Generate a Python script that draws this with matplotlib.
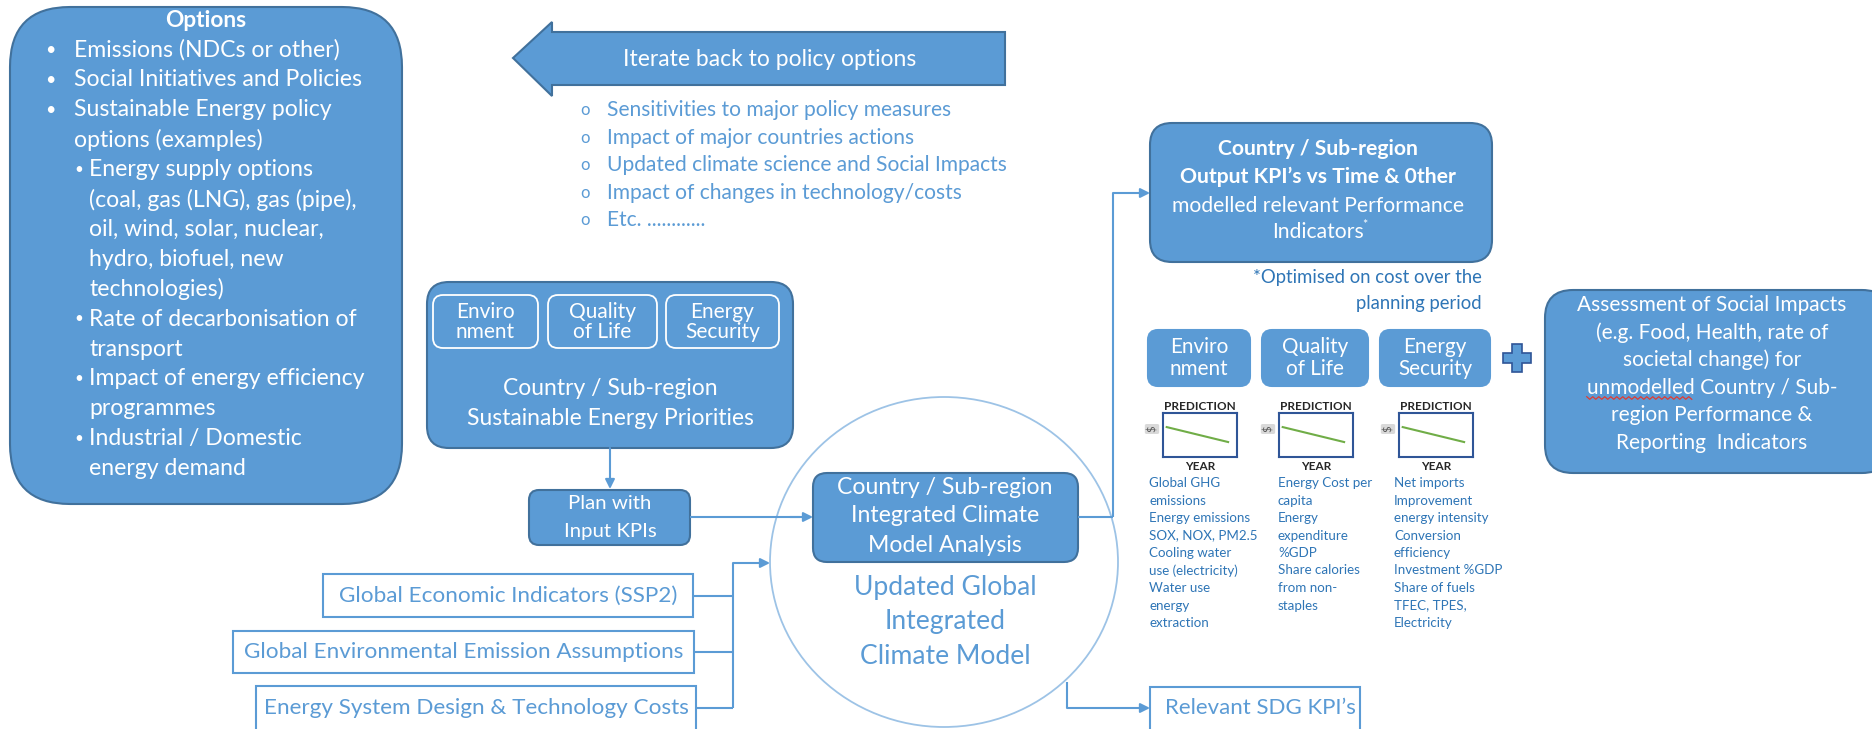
import numpy as np
import matplotlib.pyplot as plt
from matplotlib.patches import FancyBboxPatch, Rectangle, Ellipse, Polygon

plt.rcParams['font.family'] = ['Lato', 'DejaVu Sans']

#========================== text data ===========================#
options_items = [
    (0, ['Emissions (NDCs or other)']),
    (0, ['Social Initiatives and Policies']),
    (0, ['Sustainable Energy policy', 'options (examples)']),
    (1, ['Energy supply options', '(coal, gas (LNG), gas (pipe),', 'oil, wind, solar, nuclear,',
         'hydro, biofuel, new', 'technologies)']),
    (1, ['Rate of decarbonisation of', 'transport']),
    (1, ['Impact of energy efficiency', 'programmes']),
    (1, ['Industrial / Domestic', 'energy demand']),
]
iterate_title = 'Iterate back to policy options'
iterate_bullets = ['Sensitivities to major policy measures', 'Impact of major countries actions',
                   'Updated climate science and Social Impacts', 'Impact of changes in technology/costs',
                   'Etc. ............']
priority_tags = ['Enviro\nnment', 'Quality\nof Life', 'Energy\nSecurity']
input_boxes = ['Global Economic Indicators (SSP2)', 'Global Environmental Emission Assumptions',
               'Energy System Design & Technology Costs']
output_lines = ['Country / Sub-region', 'Output KPI\u2019s vs Time & 0ther',
                'modelled relevant Performance', 'Indicators']
kpi_lists = [
    ['Global GHG', 'emissions', 'Energy emissions', 'SOX, NOX, PM2.5', 'Cooling water',
     'use (electricity)', 'Water use', 'energy', 'extraction'],
    ['Energy Cost per', 'capita', 'Energy', 'expenditure', '%GDP', 'Share calories',
     'from non-', 'staples'],
    ['Net imports', 'Improvement', 'energy intensity', 'Conversion', 'efficiency',
     'Investment %GDP', 'Share of fuels', 'TFEC, TPES,', 'Electricity'],
]
assess_lines = ['Assessment of Social Impacts', '(e.g. Food, Health, rate of', 'societal change) for',
                'unmodelled Country / Sub-', 'region Performance &', 'Reporting  Indicators']
# mini prediction charts (relative year position, relative value)
pred_years = [0.05, 0.88]
pred_vals = [0.68, 0.34]

#========================== colours ===========================#
blue = '#5B9BD5'
edge = '#41719C'
dark = '#2E75B6'
white = 'white'

W, H = 1872, 729
fig = plt.figure(figsize=(W / 100, H / 100), dpi=100)
ax = fig.add_axes([0, 0, 1, 1])
ax.set_xlim(0, W)
ax.set_ylim(H, 0)
ax.axis('off')
rend = fig.canvas.get_renderer()

#===== font size that gives a line the width it has in the picture =====#
def fit(s, target, weight='normal'):
    t = ax.text(0, 0, s, fontsize=10, fontweight=weight)
    w = t.get_window_extent(rend).width
    t.remove()
    return 10 * target / w

def rbox(x0, y0, x1, y1, r, fc=blue, ec=edge, lw=1.5, z=2):
    p = FancyBboxPatch((x0, y0), x1 - x0, y1 - y0, boxstyle='round,pad=0,rounding_size=%d' % r,
                       fc=fc, ec=ec, lw=lw, zorder=z)
    ax.add_patch(p)

def arrow(x0, y0, x1, y1):
    ax.annotate('', xy=(x1, y1), xytext=(x0, y0),
                arrowprops=dict(arrowstyle='-|>', color=blue, lw=1.5, mutation_scale=14,
                                shrinkA=0, shrinkB=0), zorder=3)

def line(xs, ys):
    ax.plot(xs, ys, color=blue, lw=1.5, zorder=3, solid_capstyle='butt')

#========================== options box ===========================#
rbox(10, 7, 402, 504, 60)
ax.text(206, 20, 'Options', color=white, fontsize=fit('Options', 81, 'bold'), fontweight='bold',
        ha='center', va='center', zorder=5)
fs_opt = fit('Social Initiatives and Policies', 288)
k = 0
for lvl, lines in options_items:
    bx, tx = (50, 74) if lvl == 0 else (79, 89)
    ax.text(bx, 50 + 29.9 * k, '\u2022', color=white, fontsize=13 if lvl == 0 else 11,
            ha='center', va='center', zorder=5)
    for ln in lines:
        ax.text(tx, 50 + 29.9 * k, ln, color=white, fontsize=fs_opt, ha='left', va='center', zorder=5)
        k += 1

#========================== iterate arrow ===========================#
ax.add_patch(Polygon([(513, 58), (552, 22), (552, 32), (1005, 32), (1005, 85), (552, 85), (552, 96)],
                     closed=True, fc=blue, ec=edge, lw=1.5, zorder=2))
ax.text(770, 59, iterate_title, color=white, fontsize=fit(iterate_title, 293),
        ha='center', va='center', zorder=5)
fs_it = fit(iterate_bullets[2], 401)
for i, b in enumerate(iterate_bullets):
    y = 110 + 27.5 * i
    ax.text(585, y, 'o', color=blue, fontsize=12, ha='center', va='center')
    ax.text(607, y, b, color=blue, fontsize=fs_it, ha='left', va='center')

#========================== priorities ===========================#
rbox(427, 282, 793, 448, 22)
tag_x = [(433, 538), (548, 657), (666, 779)]
fs_tag = fit('Security', 75)
for (x0, x1), t in zip(tag_x, priority_tags):
    rbox(x0, 295, x1, 348, 10, ec=white, lw=1.3, z=3)
    ax.text((x0 + x1) / 2, 322, t, color=white, fontsize=fs_tag, ha='center', va='center',
            linespacing=1.05, zorder=5)
fs_pri = fit('Sustainable Energy Priorities', 287)
ax.text(610, 388, 'Country / Sub-region', color=white, fontsize=fs_pri, ha='center', va='center', zorder=5)
ax.text(610, 418, 'Sustainable Energy Priorities', color=white, fontsize=fs_pri, ha='center', va='center', zorder=5)
arrow(610, 448, 610, 489)

rbox(529, 490, 690, 545, 10)
fs_plan = fit('Input KPIs', 92)
ax.text(610, 503, 'Plan with', color=white, fontsize=fs_plan, ha='center', va='center', zorder=5)
ax.text(610, 532, 'Input KPIs', color=white, fontsize=fs_plan, ha='center', va='center', zorder=5)

#========================== inputs ===========================#
inp_x = [(323, 693), (233, 694), (256, 696)]
inp_y = [(574, 617), (631, 673), (686, 735)]
inp_w = [345, 448, 424]
fs_inp = min(fit(t, w) for t, w in zip(input_boxes, inp_w))
for (x0, x1), (y0, y1), t in zip(inp_x, inp_y, input_boxes):
    ax.add_patch(Rectangle((x0, y0), x1 - x0, y1 - y0, fc=white, ec=blue, lw=1.5, zorder=2))
    yc = (y0 + y1) / 2 if y1 < H else 708
    ax.text((x0 + x1) / 2, yc, t, color=blue, fontsize=fs_inp, ha='center', va='center', zorder=5)
    line([x1, 733], [yc] * 2)
line([733, 733], [563, 708])
arrow(733, 563, 770, 563)

#========================== global model ===========================#
ax.add_patch(Ellipse((944, 562), 348, 330, fc='none', ec='#9DC3E6', lw=1.3, zorder=1))
line([690, 800], [517, 517])
arrow(790, 517, 813, 517)
rbox(813, 473, 1078, 562, 14)
fs_icm = fit('Integrated Climate', 188)
for y, t in zip([487, 516, 545], ['Country / Sub-region', 'Integrated Climate', 'Model Analysis']):
    ax.text(945, y, t, color=white, fontsize=fs_icm, ha='center', va='center', zorder=5)
fs_glob = fit('Updated Global', 183)
for y, t in zip([587, 621, 656], ['Updated Global', 'Integrated', 'Climate Model']):
    ax.text(945, y, t, color=blue, fontsize=fs_glob, ha='center', va='center', zorder=5)

line([1078, 1113], [517, 517])
line([1113, 1113], [517, 193])
arrow(1113, 193, 1150, 193)
line([1067, 1067], [682, 708])
arrow(1067, 708, 1150, 708)
ax.add_patch(Rectangle((1150, 687), 210, 45, fc=white, ec=blue, lw=1.5, zorder=2))
ax.text(1260, 708, 'Relevant SDG KPI\u2019s', color=blue, fontsize=fit('Relevant SDG KPI\u2019s', 190),
        ha='center', va='center', zorder=5)

#========================== outputs ===========================#
rbox(1150, 123, 1492, 262, 22)
fs_out = fit(output_lines[2], 292)
for y, t, w in zip([149, 177, 206, 232], output_lines, ['bold', 'bold', 'normal', 'normal']):
    ax.text(1318, y, t, color=white, fontsize=fs_out, fontweight=w, ha='center', va='center', zorder=5)
ax.text(1362, 225, '*', color=white, fontsize=9, ha='left', va='center', zorder=5)
fs_note = fit('*Optimised on cost over the', 230)
ax.text(1482, 277, '*Optimised on cost over the', color=dark, fontsize=fs_note, ha='right', va='center')
ax.text(1482, 303, 'planning period', color=dark, fontsize=fs_note, ha='right', va='center')

kpi_x = [(1148, 1250), (1262, 1368), (1380, 1490)]
chart_x = [1163, 1279, 1399]
list_x = [1149, 1278, 1394]
fs_kh = fit('Security', 74)
fs_kl = fit('Energy emissions', 101)
fs_pr = fit('PREDICTION', 71, 'bold')
for (x0, x1), t, cx, lx, items in zip(kpi_x, priority_tags, chart_x, list_x, kpi_lists):
    rbox(x0, 330, x1, 386, 10, ec=blue)
    ax.text((x0 + x1) / 2, 358, t, color=white, fontsize=fs_kh, ha='center', va='center',
            linespacing=1.1, zorder=5)
    ax.text(cx + 37, 406, 'PREDICTION', color='#262626', fontsize=fs_pr, fontweight='bold',
            ha='center', va='center')
    ax.text(cx + 37, 466, 'YEAR', color='#262626', fontsize=fs_pr, fontweight='bold',
            ha='center', va='center')
    ax.text(cx - 11, 429, r'\$', color='#595959', fontsize=8, rotation=90, ha='center', va='center',
            bbox=dict(boxstyle='round,pad=0.15', fc='#D9D9D9', ec='none'))
    sub = fig.add_axes([cx / W, 1 - 457 / H, 74 / W, 44 / H])
    sub.plot(pred_years, pred_vals, color='#70AD47', lw=1.5)
    sub.set_xlim(0, 1)
    sub.set_ylim(0, 1)
    sub.set_xticks([])
    sub.set_yticks([])
    for s in sub.spines.values():
        s.set_color('#2F5597')
        s.set_linewidth(1.5)
    for j, it in enumerate(items):
        ax.text(lx, 483 + 17.5 * j, it, color=dark, fontsize=fs_kl, ha='left', va='center')

# plus sign
ax.add_patch(Polygon([(1512, 344), (1522, 344), (1522, 353), (1531, 353), (1531, 363), (1522, 363),
                      (1522, 372), (1512, 372), (1512, 363), (1503, 363), (1503, 353), (1512, 353)],
                     closed=True, fc=blue, ec='#2F5597', lw=1.2, zorder=3))

#========================== assessment ===========================#
rbox(1545, 290, 1890, 473, 28)
fs_as = fit(assess_lines[0], 268)
txts = []
for i, t in enumerate(assess_lines):
    txts.append(ax.text(1712, 305 + 27.6 * i, t, color=white, fontsize=fs_as, ha='center', va='center', zorder=5))

# spell-check squiggle under "unmodelled"
fig.canvas.draw()
bb = txts[3].get_window_extent(rend)
tmp = ax.text(0, 0, 'unmodelled', fontsize=fs_as)
wb = tmp.get_window_extent(rend)
tmp.remove()
xs = np.arange(bb.x0, bb.x0 + wb.width, 3.0)
ys = H - 398 + 1.3 * (-1) ** np.arange(len(xs))
pts = ax.transData.inverted().transform(np.column_stack([xs, ys]))
ax.plot(pts[:, 0], pts[:, 1], color='#E03C31', lw=0.9, zorder=6)

plt.savefig('out.png', dpi=100)
